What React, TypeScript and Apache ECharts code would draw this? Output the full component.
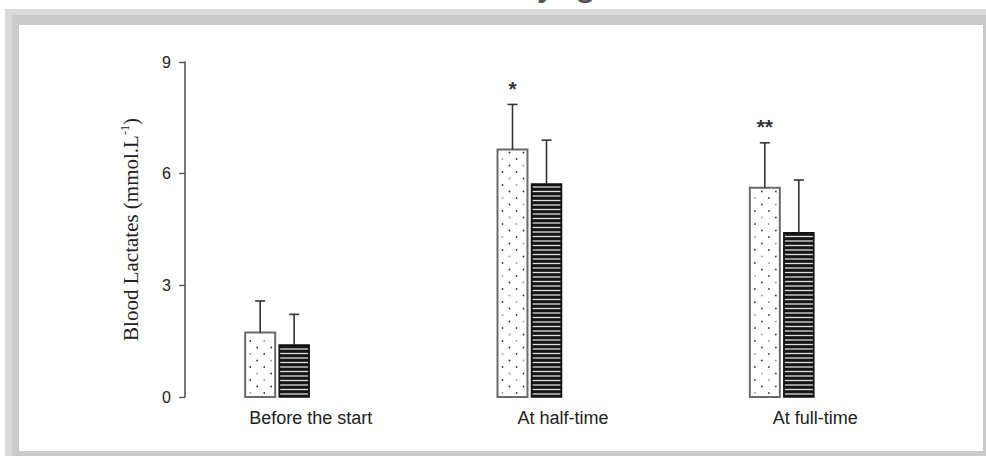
import React, { useEffect, useRef } from "react";
import * as echarts from "echarts";

// Blood lactate (mmol/L) at three time points, two groups, mean ± SD
const categories = ["Before the start", "At half-time", "At full-time"];
const dottedMeans = [1.73, 6.65, 5.62];
const dottedSd = [0.85, 1.21, 1.21];
const stripedMeans = [1.4, 5.72, 4.41];
const stripedSd = [0.82, 1.18, 1.42];
const significance = ["", "*", "**"];
const yMin = 0;
const yMax = 9;
const yInterval = 3;

const BAR_W = 30;
const BAR_SHIFT = 17;

type Kind = "dots" | "stripes";

function makeRenderer(kind: Kind, shift: number, marks: string[]) {
  return (params: any, api: any) => {
    const idx = api.value(0);
    const mean = api.value(1);
    const sd = api.value(2);
    const base = api.coord([idx, 0]);
    const top = api.coord([idx, mean]);
    const err = api.coord([idx, mean + sd]);
    const cx = base[0] + shift;
    const left = cx - BAR_W / 2;
    const h = base[1] - top[1];
    const children: any[] = [];

    children.push({
      type: "rect",
      shape: { x: left, y: top[1], width: BAR_W, height: h },
      style: { fill: kind === "dots" ? "#ffffff" : "#161616", stroke: "none" },
    });

    if (kind === "dots") {
      const cols = [5, 12, 19, 26];
      for (let k = 0; ; k++) {
        const y = base[1] - 4 - 6.5 * k;
        if (y < top[1] + 3) break;
        const use = k % 2 === 0 ? [cols[0], cols[2]] : [cols[1], cols[3]];
        use.forEach((dx, j) => {
          children.push({
            type: "circle",
            shape: { cx: left + dx, cy: y, r: 0.85 },
            style: { fill: (k + j) % 3 === 0 ? "#999999" : "#333333" },
          });
        });
      }
    } else {
      for (let y = base[1] - 3; y > top[1] + 2; y -= 4.5) {
        children.push({
          type: "line",
          shape: { x1: left + 1, y1: y, x2: left + BAR_W - 1, y2: y },
          style: { stroke: "#dedede", lineWidth: 1.3 },
        });
      }
    }

    children.push({
      type: "rect",
      shape: { x: left, y: top[1], width: BAR_W, height: h },
      style: {
        fill: "none",
        stroke: kind === "dots" ? "#6a6a6a" : "#111111",
        lineWidth: kind === "dots" ? 2 : 1.5,
      },
    });

    // error bar above the bar
    children.push({
      type: "line",
      shape: { x1: cx, y1: top[1], x2: cx, y2: err[1] },
      style: { stroke: "#333333", lineWidth: 1.6 },
    });
    children.push({
      type: "line",
      shape: { x1: cx - 5, y1: err[1], x2: cx + 5, y2: err[1] },
      style: { stroke: "#333333", lineWidth: 1.6 },
    });

    const mark = marks[params.dataIndex];
    if (mark) {
      children.push({
        type: "text",
        style: {
          text: mark,
          x: cx,
          y: err[1] - 16,
          align: "center",
          verticalAlign: "middle",
          font: 'bold 21px "Liberation Sans", Arial, sans-serif',
          fill: "#333333",
        },
      });
    }

    return { type: "group", children };
  };
}

export default function App() {
  const ref = useRef<HTMLDivElement>(null);

  useEffect(() => {
    document.body.style.margin = "0";
    if (!ref.current) return;
    const chart = echarts.init(ref.current, undefined, { renderer: "svg" });

    const dottedData = categories.map((_, i) => [i, dottedMeans[i], dottedSd[i]]);
    const stripedData = categories.map((_, i) => [i, stripedMeans[i], stripedSd[i]]);

    chart.setOption({
      animation: false,
      backgroundColor: "#ffffff",
      graphic: [
        { type: "rect", z: -10, shape: { x: 5, y: 9, width: 981, height: 447 }, style: { fill: "#d9d9d9" } },
        { type: "rect", z: -9, shape: { x: 12, y: 15, width: 974, height: 441 }, style: { fill: "#cbcbcb" } },
        { type: "rect", z: -8, shape: { x: 19, y: 25, width: 964, height: 426 }, style: { fill: "#ffffff" } },
        {
          type: "text",
          z: -7,
          style: {
            text: "by age",
            x: 520,
            y: -15,
            align: "left",
            verticalAlign: "middle",
            font: 'bold 28px "Open Sans", sans-serif',
            fill: "#555555",
          },
        },
      ],
      grid: { left: 151, right: 78, top: 62, bottom: 59, containLabel: false },
      xAxis: {
        type: "category",
        data: categories,
        axisLine: { show: false },
        axisTick: { show: false },
        axisLabel: {
          margin: 12,
          fontSize: 18,
          fontFamily: '"Liberation Sans", Arial, sans-serif',
          color: "#222222",
          padding: [0, 0, 0, 67],
        },
        splitLine: { show: false },
      },
      yAxis: {
        type: "value",
        min: yMin,
        max: yMax,
        interval: yInterval,
        offset: -34,
        axisLine: { show: true, lineStyle: { color: "#555555", width: 1.6 } },
        axisTick: { show: true, length: 6, lineStyle: { color: "#555555", width: 1.4 } },
        axisLabel: {
          margin: 14,
          fontSize: 16,
          fontFamily: '"Liberation Sans", Arial, sans-serif',
          color: "#222222",
        },
        splitLine: { show: false },
        name: "Blood Lactates (mmol.L{sup|-1})",
        nameLocation: "middle",
        nameGap: 42,
        nameRotate: 90,
        nameTextStyle: {
          fontSize: 21,
          lineHeight: 24,
          fontFamily: '"Liberation Serif", "Times New Roman", serif',
          color: "#222222",
          rich: {
            sup: {
              fontSize: 12,
              lineHeight: 12,
              verticalAlign: "top",
              fontFamily: '"Liberation Serif", "Times New Roman", serif',
              color: "#222222",
            },
          },
        },
      },
      series: [
        {
          type: "custom",
          name: "dotted",
          data: dottedData,
          encode: { x: 0, y: 1 },
          renderItem: makeRenderer("dots", -BAR_SHIFT, significance),
        },
        {
          type: "custom",
          name: "striped",
          data: stripedData,
          encode: { x: 0, y: 1 },
          renderItem: makeRenderer("stripes", BAR_SHIFT, []),
        },
      ],
    });

    return () => chart.dispose();
  }, []);

  return <div ref={ref} style={{ width: 986, height: 456 }} />;
}
